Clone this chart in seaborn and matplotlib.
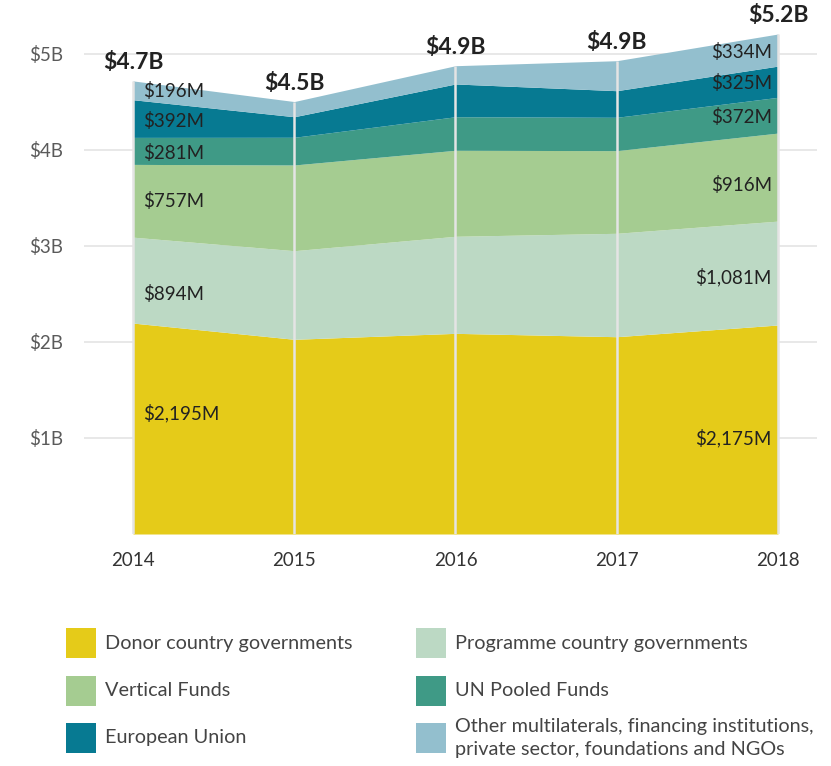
import numpy as np
import matplotlib
matplotlib.use("Agg")
import matplotlib.pyplot as plt
import matplotlib.patches as mpatches
import seaborn as sns

# Data (US$ millions)
years = [2014, 2015, 2016, 2017, 2018]
donor = [2195, 2026, 2088, 2053, 2175]
programme = [894, 922, 1010, 1076, 1081]
vertical = [757, 892, 895, 860, 916]
un_pooled = [281, 288, 349, 347, 372]
eu = [392, 214, 341, 277, 325]
other = [196, 158, 190, 312, 334]

series_names = ['Donor country governments', 'Programme country governments',
                'Vertical Funds', 'UN Pooled Funds', 'European Union',
                'Other multilaterals, financing institutions,\nprivate sector, foundations and NGOs']
colors = ['#E5CB19', '#BCD9C4', '#A5CC91', '#3F9A86', '#077A92', '#93BFCE']

y_ticks = [1000, 2000, 3000, 4000, 5000]
y_tick_labels = ['$1B', '$2B', '$3B', '$4B', '$5B']

# small vertical nudges (points) for the band labels, down is negative
nudge_first = [11, -10, 0, -1.5, -1.5, -0.7]
nudge_last = [-6.5, -3, -5.5, -1.5, -0.7, -1.5]

sns.set_theme(style="white")
plt.rcParams['font.family'] = ['Lato', 'DejaVu Sans']

W, H = 831, 766
fig = plt.figure(figsize=(W / 100, H / 100), dpi=100)
ax = fig.add_axes([84 / W, 1 - 534 / H, 733 / W, 534 / H])

stack = np.array([donor, programme, vertical, un_pooled, eu, other])
ax.stackplot(years, stack, colors=colors, linewidth=0, zorder=2)

tops = stack.cumsum(axis=0)
totals = tops[-1]

# vertical year lines over the areas
ax.vlines(years, 0, totals, color='#E4E4E4', linewidth=1.8, zorder=3)

ax.set_xlim(2014 - 49 / 161.3, 2018 + 39 / 161.3)
ax.set_ylim(0, 534 / 96.1 * 1000)
ax.set_yticks(y_ticks)
ax.set_yticklabels(y_tick_labels)
ax.set_xticks(years)
ax.set_xticklabels([str(y) for y in years])
ax.yaxis.grid(True, color='#E8E8E8', linewidth=1.4, zorder=0)
ax.xaxis.grid(False)
ax.set_axisbelow(True)
for s in ax.spines.values():
    s.set_visible(False)
ax.tick_params(axis='y', length=0, pad=15, labelsize=13.5, labelcolor='#5a5a5a')
ax.tick_params(axis='x', length=0, pad=13, labelsize=13.5, labelcolor='#333333')

# band labels for first and last year
bottoms = tops - stack
for i in range(len(stack)):
    mid0 = (bottoms[i, 0] + tops[i, 0]) / 2
    mid1 = (bottoms[i, -1] + tops[i, -1]) / 2
    ax.annotate(f"${stack[i, 0]:,}M", (years[0], mid0), xytext=(7, nudge_first[i]),
                textcoords='offset points', ha='left', va='center',
                fontsize=13.5, color='#222222', zorder=4)
    ax.annotate(f"${stack[i, -1]:,}M", (years[-1], mid1), xytext=(-4.5, nudge_last[i]),
                textcoords='offset points', ha='right', va='center',
                fontsize=13.5, color='#222222', zorder=4)

# totals
for x, t in zip(years, totals):
    ax.annotate(f"${t / 1000:.1f}B", (x, t), xytext=(0, 13),
                textcoords='offset points', ha='center', va='center',
                fontsize=16.5, fontweight='bold', color='#222222', zorder=4)

# legend
order = [0, 2, 4, 1, 3, 5]
col_x = [66, 416]
row_y = [643, 691, 738]
for k, idx in enumerate(order):
    cx = col_x[k // 3]
    cy = row_y[k % 3]
    fig.add_artist(mpatches.Rectangle((cx / W, 1 - (cy + 15) / H), 30 / W, 30 / H,
                                      transform=fig.transFigure, color=colors[idx], lw=0))
    fig.text((cx + 39) / W, 1 - cy / H, series_names[idx], ha='left', va='center',
             fontsize=14.3, color='#444444', linespacing=1.45)

fig.savefig('out.png', dpi=100)
